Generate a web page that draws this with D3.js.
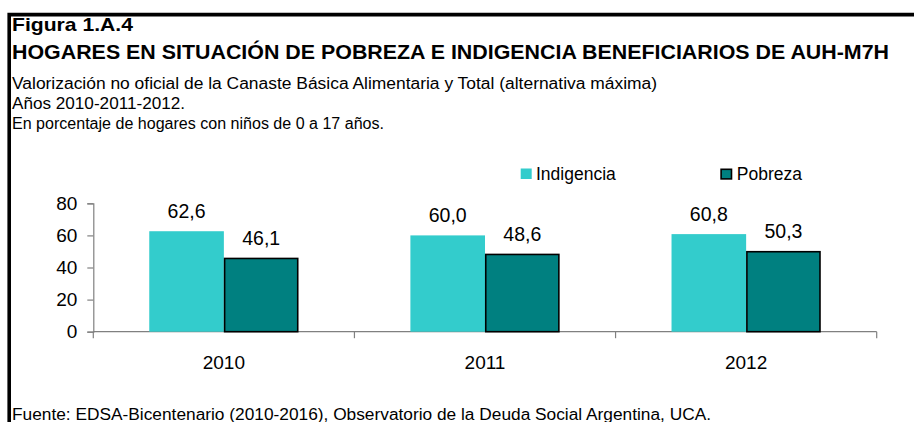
<!DOCTYPE html>
<html>
<head>
<meta charset="utf-8">
<script src="https://cdn.jsdelivr.net/npm/d3@7"></script>
<style>
  body { margin: 0; background: #fff; }
  svg { display: block; font-family: "Liberation Sans", Arial, sans-serif; }
</style>
</head>
<body>
<div id="chart"></div>
<script>
const years = ["2010", "2011", "2012"];
const series = ["Indigencia", "Pobreza"];
const indigencia = [62.6, 60.0, 60.8];
const pobreza = [46.1, 48.6, 50.3];
const yTicks = [0, 20, 40, 60, 80];

const colors = { Indigencia: "#33cccc", Pobreza: "#008080" };

let width = 914,
  height = 422,
  margin = { top: 203.3, right: 37.3, bottom: 90.3, left: 93.3 };

const svg = d3
  .select("#chart")
  .append("svg")
  .attr("width", width)
  .attr("height", height)
  .attr("viewBox", [0, 0, width, height]);

// frame: thick top and left rule
svg
  .append("path")
  .attr("d", `M9.2,${height} V14.6 H${width}`)
  .attr("fill", "none")
  .attr("stroke", "#000")
  .attr("stroke-width", 3.6);

// header texts, fitted to the widths seen in the picture
const header = [
  { text: "Figura 1.A.4", y: 30.5, size: 19, weight: "bold", w: 121 },
  { text: "HOGARES EN SITUACIÓN DE POBREZA E INDIGENCIA BENEFICIARIOS DE AUH-M7H", y: 59, size: 20, weight: "bold", w: 877 },
  { text: "Valorización no oficial de la Canaste Básica Alimentaria y Total (alternativa máxima)", y: 88.5, size: 16, weight: "normal", w: 645 },
  { text: "Años 2010-2011-2012.", y: 108.5, size: 16, weight: "normal", w: 173 },
  { text: "En porcentaje de hogares con niños de 0 a 17 años.", y: 129, size: 16, weight: "normal", w: 372 },
  { text: "Fuente: EDSA-Bicentenario (2010-2016), Observatorio de la Deuda Social Argentina, UCA.", y: 420, size: 16, weight: "normal", w: 699 },
];

svg
  .append("g")
  .selectAll("text")
  .data(header)
  .join("text")
  .attr("x", 12)
  .attr("y", (d) => d.y)
  .attr("font-size", (d) => d.size)
  .attr("font-weight", (d) => d.weight)
  .attr("textLength", (d) => d.w)
  .attr("lengthAdjust", "spacingAndGlyphs")
  .attr("fill", "#000")
  .text((d) => d.text);

const data = years.map((year, i) => ({
  year,
  Indigencia: indigencia[i],
  Pobreza: pobreza[i],
}));

let x0 = d3
  .scaleBand()
  .domain(years)
  .range([margin.left, width - margin.right])
  .padding(0);

let x1 = d3
  .scaleBand()
  .domain(series)
  .range([0, x0.bandwidth()])
  .paddingInner(0)
  .paddingOuter(0.75);

let y = d3
  .scaleLinear()
  .domain([0, 80])
  .range([height - margin.bottom, margin.top]);

// Y axis
const yAxis = svg
  .append("g")
  .attr("transform", `translate(${margin.left},0)`)
  .call(d3.axisLeft(y).tickValues(yTicks).tickSize(6).tickPadding(10));

yAxis.selectAll("path, line").attr("stroke", "#808080").attr("stroke-width", 1.2);
yAxis
  .selectAll("text")
  .attr("font-size", 19)
  .attr("fill", "#000")
  .attr("font-family", "Liberation Sans, Arial, sans-serif");

// X axis: ticks sit at the band edges
const bandEdges = years.map((d) => x0(d)).concat([width - margin.right]);
const xAxis = svg.append("g").attr("class", "x-axis");

xAxis
  .append("line")
  .attr("x1", x0.range()[0])
  .attr("x2", x0.range()[1])
  .attr("y1", y(0))
  .attr("y2", y(0))
  .attr("stroke", "#808080")
  .attr("stroke-width", 1.2);

xAxis
  .selectAll("line.tick")
  .data(bandEdges)
  .join("line")
  .attr("class", "tick")
  .attr("x1", (d) => d)
  .attr("x2", (d) => d)
  .attr("y1", y(0))
  .attr("y2", y(0) + 6.5)
  .attr("stroke", "#808080")
  .attr("stroke-width", 1.2);

xAxis
  .selectAll("text")
  .data(years)
  .join("text")
  .attr("x", (d) => x0(d) + x0.bandwidth() / 2)
  .attr("y", 369)
  .attr("text-anchor", "middle")
  .attr("font-size", 19)
  .text((d) => d);

// bars
const groups = svg
  .append("g")
  .selectAll("g")
  .data(data)
  .join("g")
  .attr("transform", (d) => `translate(${x0(d.year)},0)`);

const bars = groups
  .selectAll("g")
  .data((d) => series.map((key) => ({ key, value: d[key] })))
  .join("g");

bars
  .append("rect")
  .attr("x", (d) => x1(d.key) + (d.key === "Pobreza" ? 0.75 : 0))
  .attr("y", (d) => y(d.value) + (d.key === "Pobreza" ? 0.75 : 0))
  .attr("width", (d) => x1.bandwidth() - (d.key === "Pobreza" ? 1.5 : 0))
  .attr("height", (d) => y(0) - y(d.value) - (d.key === "Pobreza" ? 0.75 : 0))
  .attr("fill", (d) => colors[d.key])
  .attr("stroke", (d) => (d.key === "Pobreza" ? "#000" : "none"))
  .attr("stroke-width", 1.6);

const fmt = (v) => d3.format(".1f")(v).replace(".", ",");

bars
  .append("text")
  .attr("x", (d) => x1(d.key) + x1.bandwidth() / 2)
  .attr("y", (d) => y(d.value) - 13)
  .attr("text-anchor", "middle")
  .attr("font-size", 19.5)
  .attr("fill", "#000")
  .text((d) => fmt(d.value));

// legend
const legendX = [520.7, 720.3];
const legend = svg
  .append("g")
  .selectAll("g")
  .data(series)
  .join("g")
  .attr("transform", (d, i) => `translate(${legendX[i]},168.5)`);

legend
  .append("rect")
  .attr("x", (d) => (d === "Pobreza" ? 0.8 : 0))
  .attr("y", (d) => (d === "Pobreza" ? 0.8 : 0))
  .attr("width", (d) => (d === "Pobreza" ? 10.4 : 11))
  .attr("height", (d) => (d === "Pobreza" ? 9.6 : 10.5))
  .attr("fill", (d) => colors[d])
  .attr("stroke", (d) => (d === "Pobreza" ? "#000" : "none"))
  .attr("stroke-width", 1.6);

legend
  .append("text")
  .attr("x", (d) => (d === "Pobreza" ? 16.5 : 15.3))
  .attr("y", 11)
  .attr("font-size", 17.5)
  .attr("fill", "#000")
  .text((d) => d);
</script>
</body>
</html>
